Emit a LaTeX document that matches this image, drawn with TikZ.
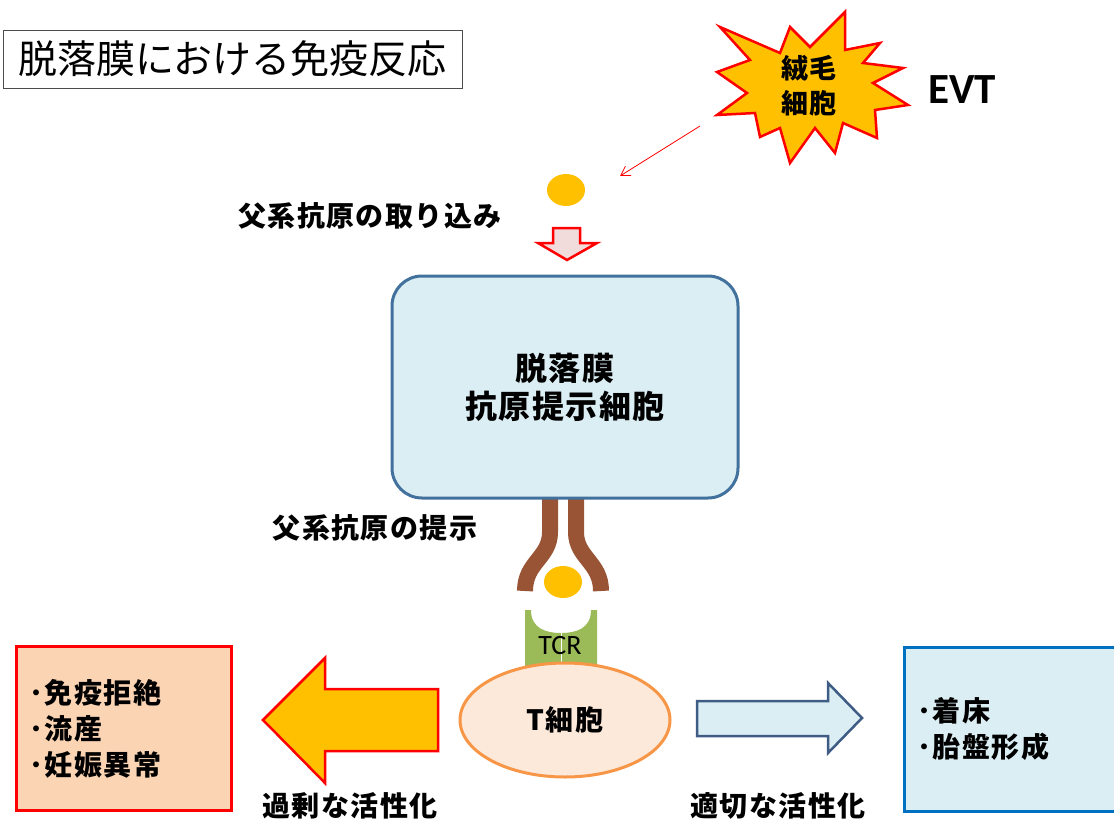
\documentclass[tikz,border=0pt]{standalone}
\usepackage{fontspec}
\usepackage{tikz}
\usepackage{xcolor}
\usetikzlibrary{shapes.geometric,arrows.meta}
\newfontfamily\jp{Noto Sans CJK JP}
\newfontfamily\jpwide{Noto Sans CJK JP}[LetterSpace=5]
\newfontfamily\lat{Carlito}
\definecolor{burst-yellow}{HTML}{FFC000}
\definecolor{cell-blue}{HTML}{DBEEF4}
\definecolor{cell-edge}{HTML}{41719C}
\definecolor{tcell-fill}{HTML}{FDE9D9}
\definecolor{tcell-edge}{HTML}{F79646}
\definecolor{bad-fill}{HTML}{FBD4B4}
\definecolor{good-edge}{HTML}{0070C0}
\definecolor{mhc-brown}{HTML}{985434}
\definecolor{tcr-green}{HTML}{9BBB59}
\definecolor{uptake-pink}{HTML}{F2DCDB}
\definecolor{flow-edge}{HTML}{3E5C84}
\tikzset{
    title-box/.style = {draw=black!70, thin, rectangle, minimum width=459, minimum height=58, inner sep=0pt, font=\jp\fontsize{39}{44}\selectfont},
    label-text/.style = {font=\jpwide\bfseries\fontsize{28}{36}\selectfont},
    burst/.style = {fill=burst-yellow, draw=red, line width=2.5pt, line join=miter},
    antigen/.style = {ellipse, fill=burst-yellow, minimum width=38, minimum height=32, inner sep=0pt},
    apc-box/.style = {draw=cell-edge, fill=cell-blue, line width=3pt, rectangle, rounded corners=30pt, minimum width=346, minimum height=222, align=center, font=\jpwide\bfseries\fontsize{32}{38}\selectfont},
    mhc-arm/.style = {draw=mhc-brown, line width=16pt},
    tcell/.style = {ellipse, draw=tcell-edge, fill=tcell-fill, line width=3pt, minimum width=210, minimum height=114, font=\jpwide\bfseries\fontsize{28}{34}\selectfont},
    result-box/.style = {rectangle, line width=3pt, minimum height=164, inner xsep=13pt, align=left, font=\jpwide\bfseries\fontsize{28}{36}\selectfont},
}

\begin{document}
\begin{tikzpicture}[x=1pt, y=-1pt]
\clip (0,0) rectangle (1114,822);
\useasboundingbox (0,0) rectangle (1114,822);

% title
\node[title-box] (title) at (232.5,59) {脱落膜における免疫反応};

% trophoblast burst and EVT
\draw[burst] (720,27) -- (780,53) -- (790,27) -- (810,47) -- (845,12) -- (845,50)
    -- (880,43) -- (863,63) -- (903,68) -- (873,83) -- (908,105) -- (875,110)
    -- (877,138) -- (843,123) -- (835,153) -- (815,128) -- (790,163) -- (780,128)
    -- (760,137) -- (755,113) -- (717,115) -- (747,93) -- (717,72) -- (750,60) -- cycle;
\node[align=center, font=\jpwide\bfseries\fontsize{27}{35}\selectfont] (villus) at (809,86) {絨毛\\細胞};
\node[font=\lat\bfseries\fontsize{43}{48}\selectfont] (evt) at (962,90) {EVT};

% uptake of the paternal antigen
\coordinate (uptake-from) at (700,126);
\coordinate (uptake-to) at (620,176);
\draw[red, line width=0.8pt, -{Straight Barb[length=9pt, width=11pt]}] (uptake-from) -- (uptake-to);
\node[antigen] (antigen-free) at (566,190) {};
\node[label-text] (uptake) at (370,216) {父系抗原の取り込み};
\draw[draw=red, fill=uptake-pink, line width=2.5pt, line join=miter]
    (553,228) -- (580,228) -- (580,243) -- (597,243) -- (567,260) -- (538,243) -- (553,243) -- cycle;

% antigen presenting cell with MHC
\draw[mhc-arm] (550,496) -- (550,532) .. controls (550,558) and (525,562) .. (525,591);
\draw[mhc-arm] (576,496) -- (576,532) .. controls (576,558) and (601,562) .. (601,591);
\node[apc-box] (apc) at (565,387) {脱落膜\\抗原提示細胞};
\node[label-text] (present) at (375,528) {父系抗原の提示};
\node[antigen] (antigen-bound) at (563,582) {};

% TCR and T cell
\fill[tcr-green] (525,670) -- (525,610) -- (531,610) .. controls (531,628) and (545,633) .. (561,633)
    .. controls (577,633) and (591,628) .. (591,610) -- (597,610) -- (597,670) -- cycle;
\draw[white, line width=1pt] (561,633) -- (561,670);
\node[font=\lat\fontsize{28}{30}\selectfont] (tcr) at (560,646) {TCR};
\node[tcell] (tcell) at (565,720) {T細胞};

% outcomes
\draw[fill=burst-yellow, draw=red, line width=2.5pt, line join=miter]
    (263,720) -- (325,658) -- (325,689) -- (438,689) -- (438,751) -- (325,751) -- (325,783) -- cycle;
\node[result-box, draw=red, fill=bad-fill, text width=189, anchor=north west] (reject) at (15,645)
    {･免疫拒絶\\･流産\\･妊娠異常};
\node[label-text] (excess) at (350,806) {過剰な活性化};

\draw[fill=cell-blue, draw=flow-edge, line width=2.5pt, line join=miter]
    (697,701) -- (828,701) -- (828,683) -- (862,718) -- (828,753) -- (828,736) -- (697,736) -- cycle;
\node[result-box, draw=good-edge, fill=cell-blue, text width=214, anchor=north west] (implant) at (903,646)
    {･着床\\･胎盤形成};
\node[label-text] (proper) at (778,806) {適切な活性化};
\end{tikzpicture}
\end{document}
